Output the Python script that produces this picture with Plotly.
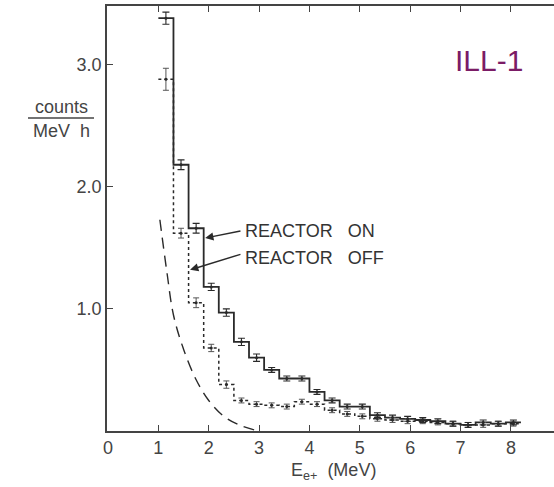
import plotly.graph_objects as go

# ---- data ----
bin_centers = [1.15, 1.45, 1.75, 2.05, 2.35, 2.65, 2.95, 3.25, 3.55, 3.85, 4.15, 4.45,
               4.75, 5.05, 5.35, 5.65, 5.95, 6.25, 6.55, 6.85, 7.15, 7.45, 7.75, 8.05]
bin_width = 0.3
reactor_on = [3.38, 2.18, 1.66, 1.18, 0.97, 0.73, 0.60, 0.50, 0.43, 0.43, 0.32, 0.25,
              0.20, 0.20, 0.13, 0.11, 0.10, 0.09, 0.08, 0.06, 0.05, 0.07, 0.06, 0.07]
reactor_on_err = [0.05, 0.04, 0.04, 0.03, 0.03, 0.03, 0.03, 0.02, 0.02, 0.02, 0.02, 0.02,
                  0.02, 0.02, 0.02, 0.02, 0.02, 0.02, 0.02, 0.02, 0.02, 0.02, 0.02, 0.02]
reactor_off = [2.88, 1.62, 1.05, 0.68, 0.38, 0.25, 0.22, 0.21, 0.20, 0.24, 0.22, 0.17,
               0.14, 0.12, 0.10, 0.09, 0.08, 0.08, 0.07, 0.06, 0.05, 0.05, 0.06, 0.06]
reactor_off_err = [0.09, 0.04, 0.04, 0.03, 0.03, 0.02, 0.02, 0.02, 0.02, 0.02, 0.02, 0.02,
                   0.02, 0.02, 0.02, 0.02, 0.02, 0.02, 0.02, 0.02, 0.02, 0.02, 0.02, 0.02]
curve_x = [1.03, 1.17, 1.30, 1.50, 1.75, 2.00, 2.30, 2.60, 2.98]
curve_y = [1.73, 1.30, 0.95, 0.67, 0.42, 0.25, 0.12, 0.05, 0.00]

x_ticks = [0, 1, 2, 3, 4, 5, 6, 7, 8]
y_ticks = [1, 2, 3]
y_ticktext = ["1.0", "2.0", "3.0"]

# step coordinates built from the bins
edges = [c - bin_width / 2 for c in bin_centers] + [bin_centers[-1] + bin_width / 2]
on_step = reactor_on + [reactor_on[-1]]
off_step = reactor_off + [reactor_off[-1]]

INK = "#2a2a2a"
fig = go.Figure()
fig.add_trace(go.Scatter(x=curve_x, y=curve_y, mode="lines", line_shape="spline",
                         line=dict(color=INK, width=1.4, dash="11px,7px"), showlegend=False))
fig.add_trace(go.Scatter(x=edges, y=off_step, mode="lines", line_shape="hv",
                         line=dict(color=INK, width=1.5, dash="dot"), showlegend=False))
fig.add_trace(go.Scatter(x=edges, y=on_step, mode="lines", line_shape="hv",
                         line=dict(color=INK, width=1.8), showlegend=False))
fig.add_trace(go.Scatter(x=bin_centers, y=reactor_off, mode="markers",
                         marker=dict(size=3, color=INK),
                         error_y=dict(type="data", array=reactor_off_err, color="#555",
                                      thickness=1, width=3), showlegend=False))
fig.add_trace(go.Scatter(x=bin_centers, y=reactor_on, mode="markers",
                         marker=dict(size=3, color=INK),
                         error_y=dict(type="data", array=reactor_on_err, color=INK,
                                      thickness=1.1, width=3.5), showlegend=False))

L, R, T, B = 107, 0, 6, 56
W, H = 554, 487
PW, PH = W - L - R, H - T - B


def px(xp):
    return (xp - L) / PW


def py(yp):
    return (H - B - yp) / PH


TXT = dict(family="Liberation Sans, Arial, sans-serif", size=18, color="#444")
ann = []
# arrows and labels
ann.append(dict(x=1.93, y=1.58, ax=2.66, ay=1.64, xref="x", yref="y", axref="x", ayref="y",
                text="", showarrow=True, arrowhead=2, arrowsize=1.1, arrowwidth=1.5,
                arrowcolor=INK))
ann.append(dict(x=1.63, y=1.32, ax=2.66, ay=1.45, xref="x", yref="y", axref="x", ayref="y",
                text="", showarrow=True, arrowhead=2, arrowsize=1.1, arrowwidth=1.5,
                arrowcolor=INK))
ann.append(dict(x=2.68, y=1.64, xref="x", yref="y", xanchor="left", yanchor="middle",
                text="REACTOR\u00a0\u00a0\u00a0ON", showarrow=False,
                font=dict(family="Liberation Sans, Arial, sans-serif", size=18, color="#333")))
ann.append(dict(x=2.68, y=1.42, xref="x", yref="y", xanchor="left", yanchor="middle",
                text="REACTOR\u00a0\u00a0\u00a0OFF", showarrow=False,
                font=dict(family="Liberation Sans, Arial, sans-serif", size=18, color="#333")))
# y-axis label as a fraction
ann.append(dict(x=px(61), y=py(107), xref="paper", yref="paper", text="counts",
                showarrow=False, font=TXT, xanchor="center", yanchor="middle"))
ann.append(dict(x=px(61), y=py(131), xref="paper", yref="paper",
                text="MeV\u00a0\u00a0h", showarrow=False, font=TXT,
                xanchor="center", yanchor="middle"))
# x-axis label
ann.append(dict(x=px(333), y=py(471), xref="paper", yref="paper",
                text="E<sub>e+</sub>\u00a0\u00a0(MeV)", showarrow=False, font=TXT,
                xanchor="center", yanchor="middle"))
# title tag
ann.append(dict(x=px(489), y=py(61), xref="paper", yref="paper", text="ILL-1",
                showarrow=False, xanchor="center", yanchor="middle",
                font=dict(family="Liberation Sans, Arial, sans-serif", size=30,
                          color="#7b1c66")))

shapes = [dict(type="line", xref="paper", yref="paper", x0=px(28), x1=px(94),
               y0=py(118), y1=py(118), line=dict(color="#444", width=1.5))]

fig.update_layout(
    width=W, height=H,
    margin=dict(l=L, r=R, t=T, b=B),
    plot_bgcolor="white", paper_bgcolor="white",
    annotations=ann, shapes=shapes,
    xaxis=dict(range=[-1 / 50.36, (W - 108) / 50.36], tickvals=x_ticks,
               ticks="inside", ticklen=6, tickwidth=1.3, tickcolor="#444",
               showline=True, linecolor="#444", linewidth=1.6, mirror="ticks",
               showgrid=False, zeroline=False, tickfont=TXT),
    yaxis=dict(range=[0, 3.48], tickvals=y_ticks, ticktext=y_ticktext,
               ticks="inside", ticklen=6, tickwidth=1.3, tickcolor="#444",
               showline=True, linecolor="#444", linewidth=1.8,
               showgrid=False, zeroline=False, tickfont=TXT),
)

fig.write_html("out.html")
